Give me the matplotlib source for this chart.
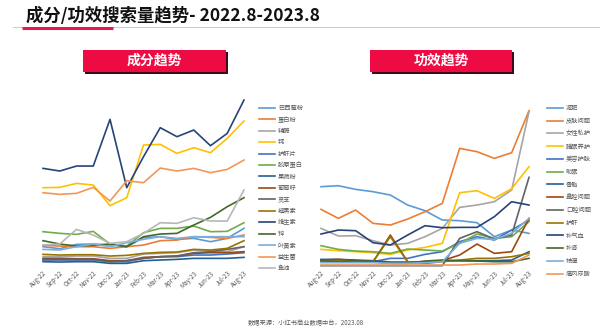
import numpy as np
import matplotlib
matplotlib.use("Agg")
import matplotlib.pyplot as plt
from matplotlib.patches import Rectangle
from matplotlib.lines import Line2D

plt.rcParams['font.family'] = ['Noto Sans CJK SC', 'DejaVu Sans']

# months on the x axis
months = ['Aug-22', 'Sep-22', 'Oct-22', 'Nov-22', 'Dec-22', 'Jan-23', 'Feb-23',
          'Mar-23', 'Apr-23', 'May-23', 'Jun-23', 'Jul-23', 'Aug-23']

# Excel-like palette (15 series)
palette = ['#5B9BD5', '#ED7D31', '#A5A5A5', '#FFC000', '#4472C4', '#70AD47',
           '#255E91', '#9E480E', '#636363', '#997300', '#264478', '#43682B',
           '#7CAFDD', '#F1975A', '#B7B7B7']

# ingredient search volume (relative)
ingredient_names = ['巴西莓粉', '蛋白粉', '辅酶', '钙', '护肝片', '胶原蛋白', '果蔬粉',
                    '葡萄籽', '灵芝', '褪黑素', '维生素', '锌', '叶黄素', '益生菌', '鱼油']
ingredient_values = [
    [60, 54, 67, 68, 65, 60, 87, 90, 82, 85, 75, 85, 115],
    [64, 62, 60, 60, 55, 60, 65, 78, 80, 90, 88, 85, 95],
    [30, 30, 32, 32, 25, 25, 38, 40, 42, 50, 48, 45, 60],
    [237, 238, 250, 245, 183, 207, 365, 367, 340, 357, 342, 385, 437],
    [20, 20, 20, 20, 15, 15, 25, 30, 30, 35, 35, 38, 42],
    [105, 100, 97, 106, 68, 62, 102, 115, 115, 122, 105, 106, 132],
    [15, 14, 15, 15, 10, 10, 18, 20, 22, 25, 25, 25, 28],
    [25, 25, 24, 24, 18, 18, 28, 30, 32, 40, 42, 42, 45],
    [22, 22, 22, 22, 15, 18, 25, 30, 32, 42, 45, 52, 60],
    [37, 35, 36, 36, 32, 34, 40, 43, 44, 52, 50, 55, 78],
    [295, 287, 302, 302, 442, 237, 330, 417, 390, 410, 363, 400, 500],
    [78, 68, 62, 64, 68, 60, 90, 98, 100, 125, 148, 180, 207],
    [52, 50, 60, 68, 60, 72, 82, 90, 85, 90, 90, 90, 90],
    [222, 217, 220, 238, 197, 258, 252, 296, 287, 295, 282, 292, 320],
    [65, 68, 112, 95, 70, 75, 100, 132, 130, 147, 137, 137, 230],
]

# efficacy search volume
effect_names = ['减肥', '皮肤问题', '女性私护', '睡眠养护', '美容护肤', '助眠', '骨骼',
                '鼻腔问题', '口腔问题', '护肝', '补气血', '补肾', '祛湿', '痛风尿酸']
effect_values = [
    [240, 243, 232, 225, 215, 185, 168, 140, 138, 132, 90, 110, 100],
    [172, 145, 170, 130, 125, 143, 165, 190, 355, 345, 325, 342, 468],
    [115, 92, 93, 78, 65, 70, 90, 115, 178, 185, 195, 230, 465],
    [52, 48, 45, 42, 37, 50, 58, 70, 222, 228, 205, 234, 300],
    [20, 18, 18, 15, 25, 25, 37, 45, 75, 90, 80, 110, 140],
    [63, 52, 47, 45, 40, 53, 50, 47, 70, 98, 85, 90, 135],
    [22, 22, 20, 18, 14, 14, 15, 17, 18, 18, 18, 20, 45],
    [20, 22, 18, 14, 95, 15, 12, 18, 35, 68, 40, 45, 145],
    [3, 3, 3, 3, 3, 3, 3, 3, 85, 105, 83, 95, 268],
    [15, 18, 15, 15, 90, 15, 10, 15, 20, 25, 25, 30, 40],
    [98, 110, 108, 72, 65, 95, 123, 117, 118, 118, 150, 195, 185],
    [18, 15, 18, 15, 10, 10, 17, 20, 18, 17, 15, 15, 25],
    [12, 12, 12, 12, 10, 10, 12, 15, 70, 85, 82, 100, 145],
    [5, 5, 5, 5, 5, 5, 5, 5, 5, 8, 8, 10, 35],
]

W, H = 600, 329
fig = plt.figure(figsize=(W / 100, H / 100), dpi=100)


def fx(px):
    return px / W


def fy(py):
    return 1 - py / H


# title + underline
fig.text(fx(26), fy(16), '成分/功效搜索量趋势- 2022.8-2023.8', fontsize=12.5,
         fontweight='bold', color='#111111', ha='left', va='center')
fig.add_artist(Line2D([fx(13), fx(600)], [fy(26.5), fy(26.5)], color='#F2A7B8', lw=0.6))
fig.add_artist(Line2D([fx(22), fx(113)], [fy(27.5), fy(27.5)], color='#E8194A', lw=2.2,
                      solid_capstyle='butt'))


def red_box(x0, x1, label):
    y0, y1 = 50, 72
    fig.add_artist(Rectangle((fx(x0 + 2), fy(y1 + 2)), fx(x1 - x0), (y1 - y0) / H,
                             transform=fig.transFigure, color='#3B0B16', lw=0))
    fig.add_artist(Rectangle((fx(x0), fy(y1)), fx(x1 - x0), (y1 - y0) / H,
                             transform=fig.transFigure, color='#EE0A42', lw=0))
    fig.text(fx((x0 + x1) / 2), fy((y0 + y1) / 2), label, fontsize=10, fontweight='bold',
             color='white', ha='center', va='center')


red_box(83, 226, '成分趋势')
red_box(370, 512, '功效趋势')


def draw_panel(rect, names, values, legend_x, spacing):
    ax = fig.add_axes(rect)
    x = np.arange(len(months))
    for i, (name, vals) in enumerate(zip(names, values)):
        ax.plot(x, vals, color=palette[i], lw=1.2, label=name)
    ax.set_xlim(-0.3, 12.3)
    ax.set_ylim(0, 510)
    ax.set_xticks(x)
    ax.set_xticklabels(months, rotation=45, ha='right', rotation_mode='anchor',
                       fontsize=4.5, color='#595959')
    ax.tick_params(axis='x', length=0, pad=2)
    ax.set_yticks([])
    for s in ax.spines.values():
        s.set_visible(False)
    ax.patch.set_alpha(0)
    leg = ax.legend(loc='upper left', bbox_to_anchor=(legend_x, fy(104)),
                    bbox_transform=fig.transFigure, frameon=False, fontsize=4.5,
                    handlelength=2.6, handletextpad=0.4, labelspacing=spacing,
                    borderaxespad=0, borderpad=0)
    for t in leg.get_texts():
        t.set_color('#595959')
    return ax


draw_panel([fx(38), fy(266.7), fx(211), 170 / H], ingredient_names, ingredient_values,
           fx(259), 0.55)
draw_panel([fx(315.8), fy(266.7), fx(218.4), 170 / H], effect_names, effect_values,
           fx(547), 0.76)

fig.text(fx(306), fy(323), '数据来源：小红书商业数据中台，2023.08', fontsize=4.5,
         color='#595959', ha='center', va='center')

fig.savefig('out.png', dpi=100)
